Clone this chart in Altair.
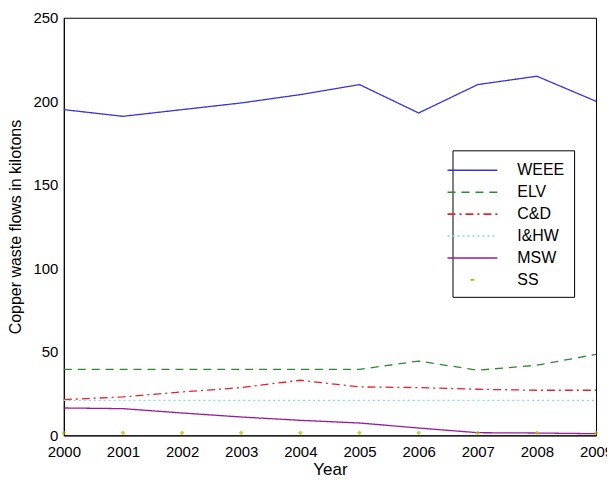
import altair as alt
import pandas as pd

years = [2000, 2001, 2002, 2003, 2004, 2005, 2006, 2007, 2008, 2009]
weee = [195, 191, 195, 199, 204, 210, 193, 210, 215, 200]
elv = [39.5, 39.5, 39.5, 39.5, 39.5, 39.5, 44.5, 39, 42, 48.5]
cd = [21.4, 23, 26, 28.6, 33, 29, 28.6, 27.6, 27, 27]
ihw = [21, 21, 21, 21, 21, 21, 21, 21, 21, 21]
msw = [16.4, 16, 13.4, 11, 9, 7.4, 4.4, 1.6, 1.4, 1.0]
ss = [1.5, 1.5, 1.5, 1.5, 1.5, 1.5, 1.5, 1.5, 1.5, 1.5]

series_names = ["WEEE", "ELV", "C&D", "I&HW", "MSW", "SS"]
colors = ["#3434e0", "#2e8a2e", "#e82028", "#7fdede", "#9a1a9a", "#b8b800"]
dashes = [[1, 0], [8, 6], [8, 4, 2, 4], [2, 3], [1, 0], [0, 23, 4, 100]]

rows = []
for name, vals in [("WEEE", weee), ("ELV", elv), ("C&D", cd), ("I&HW", ihw), ("MSW", msw)]:
    for y, v in zip(years, vals):
        rows.append({"Year": y, "Value": v, "Series": name})
lines_df = pd.DataFrame(rows)
ss_df = pd.DataFrame({"Year": years, "Value": ss})

font = "Liberation Sans"

x_enc = alt.X("Year:Q", scale=alt.Scale(domain=[2000, 2009], nice=False),
              axis=alt.Axis(values=years, format="d", title="Year", grid=False,
                            tickSize=0, labelPadding=9, titlePadding=2,
                            labelFontSize=15, titleFontSize=17, labelFont=font, titleFont=font,
                            labelColor="black", titleColor="black", titleFontWeight="normal",
                            domainColor="black", labelFlush=False, labelOverlap=False))
y_enc = alt.Y("Value:Q", scale=alt.Scale(domain=[0, 250], nice=False),
              axis=alt.Axis(values=[0, 50, 100, 150, 200, 250], title="Copper waste flows in kilotons",
                            grid=False, tickSize=0, labelPadding=6, titlePadding=9,
                            labelFontSize=15, titleFontSize=16, labelFont=font, titleFont=font,
                            labelColor="black", titleColor="black", titleFontWeight="normal",
                            domainColor="black"))

lines = alt.Chart(lines_df).mark_line(strokeWidth=1.3).encode(
    x=x_enc,
    y=y_enc,
    color=alt.Color("Series:N", scale=alt.Scale(domain=series_names, range=colors),
                    sort=series_names,
                    legend=alt.Legend(title=None, orient="none", legendX=390, legendY=133,
                                      symbolType="M-2.5,0H2.5", symbolSize=400,
                                      symbolStrokeWidth=1.6, labelFontSize=16, labelFont=font,
                                      labelColor="black", labelOffset=34, rowPadding=3,
                                      padding=9, strokeColor="black", fillColor="white",
                                      cornerRadius=0)),
    strokeDash=alt.StrokeDash("Series:N", scale=alt.Scale(domain=series_names, range=dashes),
                              sort=series_names),
    detail="Series:N",
)

points = alt.Chart(ss_df).mark_point(shape="diamond", filled=True, size=22, color="#b8b800").encode(
    x="Year:Q", y="Value:Q"
)

chart = alt.layer(lines, points).properties(
    width=534, height=419,
    autosize=alt.AutoSizeParams(type="none"),
    padding={"left": 56, "top": 9, "right": 11, "bottom": 48},
    background="white",
).configure_view(stroke="black", strokeWidth=1)

chart.save("out.html", embed_options={"renderer": "svg", "actions": False})
